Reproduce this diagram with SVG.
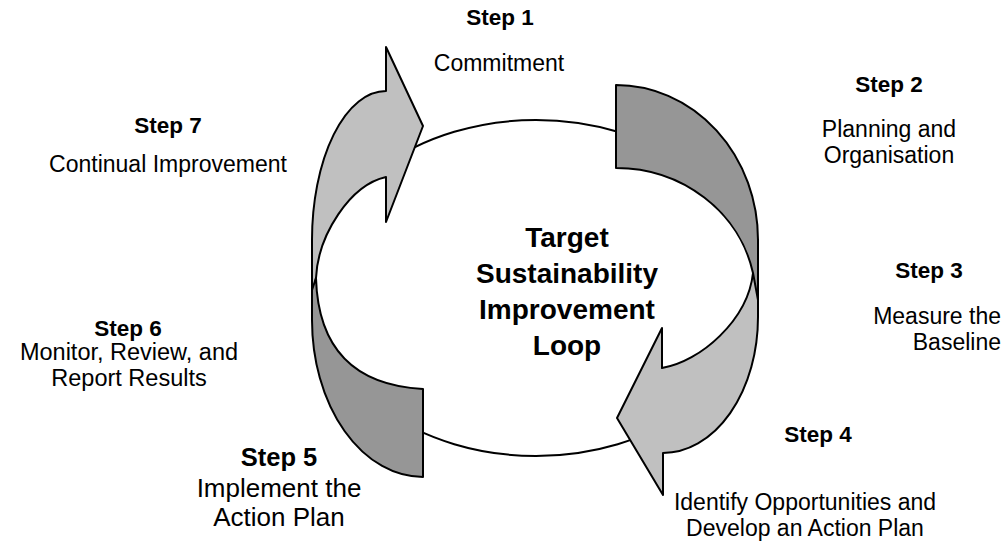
<svg xmlns="http://www.w3.org/2000/svg" width="1004" height="558" viewBox="0 0 1004 558">
<style>
.t{font-family:"Liberation Sans",Arial,sans-serif;font-size:23px;fill:#000;text-anchor:middle}
.b{font-weight:bold;font-size:22.5px}
.s5{font-size:26px}
.s5b{font-size:25.5px;font-weight:bold}
.s6{font-size:23.5px}
.ti{font-family:"Liberation Sans",Arial,sans-serif;font-size:28px;font-weight:bold;text-anchor:middle}
.light{fill:#C0C0C0;stroke:#000;stroke-width:2;stroke-linejoin:round}
.dark{fill:#969696;stroke:#000;stroke-width:2;stroke-linejoin:round}
</style>
<rect width="1004" height="558" fill="#fff"/>
<g id="loop">
<ellipse cx="536" cy="288" rx="222" ry="168" fill="none" stroke="#000" stroke-width="2"/>
</g>
<g id="connectors">
<g id="arrow-left">
<path class="light" d="M386,91 L386,47 L423,126 L386,222 L386,177 C350,185 318,235 316,278 L312,300 L312,240 A74,149 0 0 1 386,91 Z"/>
<path class="dark" d="M316,278 C318,345 350,385 423,389 L423,477 A111,157 0 0 1 312,320 L312,290 Z"/>
</g>
<g id="arrow-right">
<path class="light" d="M753,273 C748,320 700,362 662,368 L662,328 L617,418 L663,495 L663,453 A95,136 0 0 0 758,317 L758,240 Z"/>
<path class="dark" d="M616,85 A142,155 0 0 1 758,240 L758,300 L753,273 A140,132 0 0 0 616,168 Z"/>
</g>
</g>
<g id="title">
<text class="ti" x="567" y="247">Target</text>
<text class="ti" x="567" y="283">Sustainability</text>
<text class="ti" x="567" y="319">Improvement</text>
<text class="ti" x="567" y="355">Loop</text>
</g>
<g id="step1"><text class="t b" x="500" y="25">Step 1</text><text class="t" x="499" y="71">Commitment</text></g>
<g id="step2"><text class="t b" x="889" y="92">Step 2</text><text class="t" x="889" y="137">Planning and</text><text class="t" x="889" y="163">Organisation</text></g>
<g id="step3"><text class="t b" x="929" y="278">Step 3</text><text class="t" x="1001" y="324" style="text-anchor:end">Measure the</text><text class="t" x="1001" y="350" style="text-anchor:end">Baseline</text></g>
<g id="step4"><text class="t b" x="818" y="442">Step 4</text><text class="t" x="805" y="510">Identify Opportunities and</text><text class="t" x="805" y="536">Develop an Action Plan</text></g>
<g id="step5"><text class="t s5b" x="279" y="466">Step 5</text><text class="t s5" x="279" y="497">Implement the</text><text class="t s5" x="279" y="526">Action Plan</text></g>
<g id="step6"><text class="t b" x="128" y="336">Step 6</text><text class="t s6" x="129" y="360">Monitor, Review, and</text><text class="t s6" x="129" y="386">Report Results</text></g>
<g id="step7"><text class="t b" x="168" y="133">Step 7</text><text class="t" x="168" y="172">Continual Improvement</text></g>
</svg>
